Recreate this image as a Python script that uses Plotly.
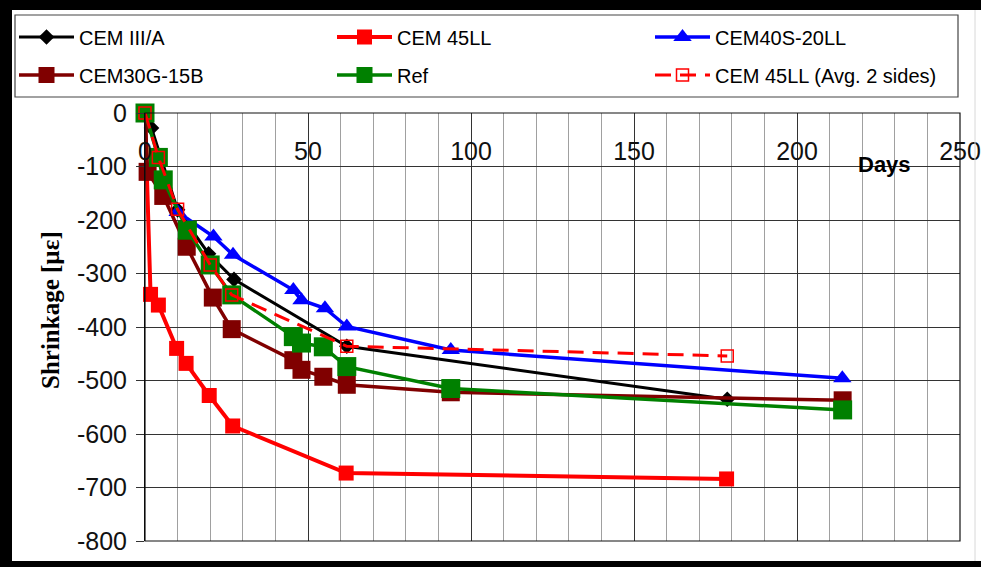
import plotly.graph_objects as go

# ---------------- data ----------------
CEM3A_DAYS = [0, 2, 10, 19.5, 27.3, 61.9, 178.6]
CEM3A_VALS = [0, -28, -181, -263, -311, -436, -535]

CEM45LL_DAYS = [0, 1.7, 4.1, 9.7, 12.6, 19.7, 26.9, 61.7, 178.4]
CEM45LL_VALS = [0, -339, -359, -440, -468, -528, -585, -673, -684]

CEM40S_DAYS = [10, 21, 27, 45.5, 48, 55.2, 61.9, 93.8, 213.9]
CEM40S_VALS = [-185, -231, -265, -331, -350, -365, -399, -443, -496]

CEM30G_DAYS = [0, 0.8, 5.6, 12.8, 20.8, 26.6, 45.5, 48, 54.7, 61.9, 93.8, 214]
CEM30G_VALS = [0, -110, -155, -250, -345, -404, -462, -480, -493, -508, -522, -537]

REF_DAYS = [0, 4.1, 5.6, 13, 20, 26.6, 45.5, 48, 54.7, 61.9, 93.8, 214]
REF_VALS = [0, -83, -125, -219, -284, -340, -418, -430, -437, -474, -515, -555]

AVG_DAYS = [0, 4.1, 10, 20, 26.6, 61.9, 178.6]
AVG_VALS = [0, -83, -180, -284, -340, -436, -454]

X_TICKS = [0, 50, 100, 150, 200, 250]
X_TICK_LABELS = ["0", "50", "100", "150", "200", "250"]
Y_TICKS = [0, -100, -200, -300, -400, -500, -600, -700, -800]
Y_TICK_LABELS = ["0", "-100", "-200", "-300", "-400", "-500", "-600", "-700", "-800"]

# ---------------- layout geometry (pixels) ----------------
W, H = 981, 567
L, R, T, B = 145, 21, 113, 26
PW, PH = W - L - R, H - T - B


def px(x):
    return (x - L) / PW


def py(y):
    return (H - B - y) / PH


fig = go.Figure()

fig.add_trace(go.Scatter(
    x=CEM3A_DAYS, y=CEM3A_VALS, name="CEM III/A", mode="lines+markers",
    line=dict(color="#000000", width=3),
    marker=dict(symbol="diamond", size=12, color="#000000"),
    cliponaxis=False, legend="legend"))
fig.add_trace(go.Scatter(
    x=CEM45LL_DAYS, y=CEM45LL_VALS, name="CEM 45LL", mode="lines+markers",
    line=dict(color="#ff0000", width=4),
    marker=dict(symbol="square", size=15, color="#ff0000"),
    cliponaxis=False, legend="legend"))
fig.add_trace(go.Scatter(
    x=CEM40S_DAYS, y=CEM40S_VALS, name="CEM40S-20LL", mode="lines+markers",
    line=dict(color="#0000ff", width=3.5),
    marker=dict(symbol="triangle-up", size=16, color="#0000ff"),
    cliponaxis=False, legend="legend"))
fig.add_trace(go.Scatter(
    x=CEM30G_DAYS, y=CEM30G_VALS, name="CEM30G-15B", mode="lines+markers",
    line=dict(color="#800000", width=3.5),
    marker=dict(symbol="square", size=18, color="#800000"),
    cliponaxis=False, legend="legend2"))
fig.add_trace(go.Scatter(
    x=REF_DAYS, y=REF_VALS, name="Ref", mode="lines+markers",
    line=dict(color="#008000", width=3.5),
    marker=dict(symbol="square", size=19, color="#008000"),
    cliponaxis=False, legend="legend2"))
fig.add_trace(go.Scatter(
    x=AVG_DAYS, y=AVG_VALS, name="CEM 45LL (Avg. 2 sides)", mode="lines+markers",
    line=dict(color="#ff0000", width=3, dash="16px,9px"),
    marker=dict(symbol="square-open", size=12, color="#ff0000", line=dict(width=1.5)),
    cliponaxis=False, legend="legend2"))

legend_common = dict(
    orientation="h", xanchor="left", yanchor="middle",
    x=px(14), entrywidth=248, entrywidthmode="pixels",
    itemwidth=55, bgcolor="rgba(0,0,0,0)", borderwidth=0,
    font=dict(family="Liberation Sans, Arial, sans-serif", size=20, color="#000000"),
)

fig.update_layout(
    width=W, height=H,
    margin=dict(l=L, r=R, t=T, b=B, autoexpand=False),
    paper_bgcolor="white", plot_bgcolor="white",
    showlegend=True,
    legend=dict(legend_common, y=py(37)),
    legend2=dict(legend_common, y=py(75)),
    font=dict(family="Liberation Sans, Arial, sans-serif", color="#111111"),
    xaxis=dict(
        range=[0, 250], tickvals=X_TICKS, ticktext=X_TICK_LABELS,
        anchor="free", position=py(134), side="bottom",
        showline=False, zeroline=False, ticks="",
        showgrid=True, gridcolor="#333333", gridwidth=1,
        minor=dict(dtick=10, showgrid=True, gridcolor="#a0a0a0", gridwidth=1, ticks=""),
        tickfont=dict(size=25, color="#111111"),
        fixedrange=True,
    ),
    yaxis=dict(
        range=[-800, 0], tickvals=Y_TICKS, ticktext=Y_TICK_LABELS,
        showline=True, linecolor="#000000", linewidth=1,
        zeroline=False, ticks="outside", ticklen=8, tickcolor="#333333",
        showgrid=True, gridcolor="#333333", gridwidth=1,
        tickfont=dict(size=25, color="#111111"),
        ticklabelstandoff=4,
        fixedrange=True,
    ),
)

shapes = [
    # plot border
    dict(type="rect", xref="paper", yref="paper", x0=0, x1=1, y0=0, y1=1,
         line=dict(color="#111111", width=1.2), fillcolor="rgba(0,0,0,0)", layer="above"),
    # legend box
    dict(type="rect", xref="paper", yref="paper", x0=px(15), x1=px(958), y0=py(97), y1=py(15),
         line=dict(color="#444444", width=1.2), fillcolor="rgba(0,0,0,0)"),
    # black picture frame
    dict(type="rect", xref="paper", yref="paper", x0=px(0), x1=px(W), y0=py(10), y1=py(0),
         line=dict(width=0), fillcolor="#000000"),
    dict(type="rect", xref="paper", yref="paper", x0=px(0), x1=px(12), y0=py(H), y1=py(0),
         line=dict(width=0), fillcolor="#000000"),
    dict(type="rect", xref="paper", yref="paper", x0=px(0), x1=px(W), y0=py(H), y1=py(561),
         line=dict(width=0), fillcolor="#000000"),
    # faint right edge line
    dict(type="line", xref="paper", yref="paper", x0=px(975), x1=px(975), y0=py(561), y1=py(10),
         line=dict(color="#d8d8d8", width=1)),
]
fig.update_layout(shapes=shapes)

fig.add_annotation(
    text="<b>Days</b>", xref="paper", yref="paper", x=px(884), y=py(164),
    xanchor="center", yanchor="middle",
    showarrow=False, font=dict(family="Liberation Sans, Arial, sans-serif", size=22, color="#000000"))
fig.add_annotation(
    text="<b>Shrinkage [µε]</b>", xref="paper", yref="paper", x=px(50), y=py(310),
    xanchor="center", yanchor="middle",
    textangle=-90, showarrow=False,
    font=dict(family="Liberation Serif, Times New Roman, serif", size=25, color="#000000"))

fig.write_html("out.html")
